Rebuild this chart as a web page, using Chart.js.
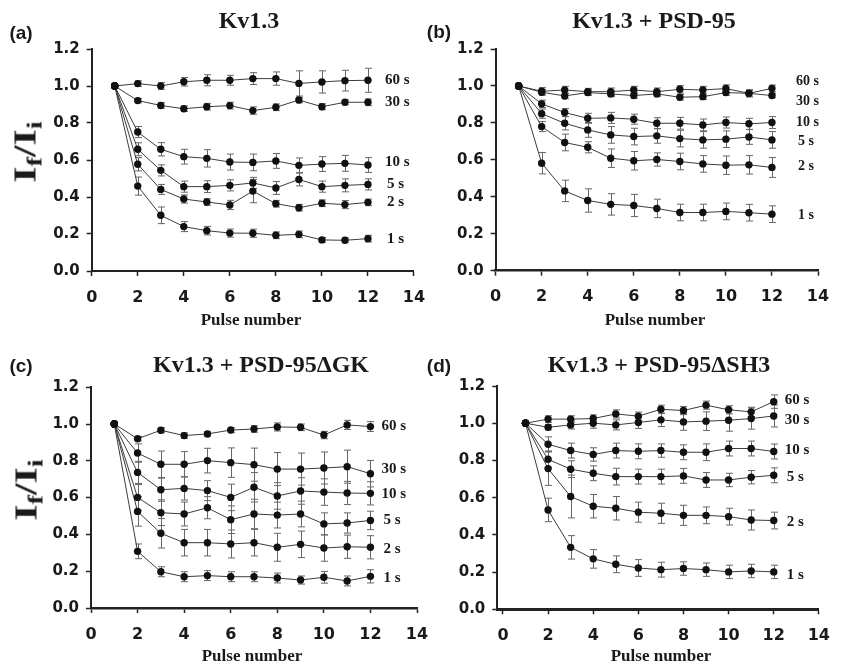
<!DOCTYPE html>
<html>
<head>
<meta charset="utf-8">
<script src="https://cdn.jsdelivr.net/npm/chart.js@4.4.1/dist/chart.umd.min.js"></script>
<style>
  html,body{margin:0;padding:0;background:#fff;}
  #wrap{position:relative;width:842px;height:665px;overflow:hidden;background:#fff;}
  canvas{position:absolute;left:0;top:0;}
  .t{position:absolute;white-space:nowrap;color:#1a1a1a;transform:translate(-50%,-50%);line-height:1;}
  .letter{font:bold 19px "Liberation Sans",Arial,sans-serif;}
  .title{font:bold 24px "Liberation Serif","Times New Roman",serif;}
  .xt{font:bold 17px "Liberation Serif","Times New Roman",serif;}
  .yt{font:bold 32px "Liberation Serif","Times New Roman",serif;transform:translate(-50%,-50%) rotate(-90deg) scaleX(1.3);}
  .yt sub{font-size:22px;vertical-align:-0.25em;line-height:0;}
</style>
</head>
<body>
<div id="wrap">
  <canvas id="ca" width="842" height="665"></canvas>
  <canvas id="cb" width="842" height="665"></canvas>
  <canvas id="cc" width="842" height="665"></canvas>
  <canvas id="cd" width="842" height="665"></canvas>

  <div class="t letter" style="left:21px;top:33px;">(a)</div>
  <div class="t letter" style="left:439px;top:32px;">(b)</div>
  <div class="t letter" style="left:21px;top:366px;">(c)</div>
  <div class="t letter" style="left:439px;top:366px;">(d)</div>

  <div class="t title" style="left:249px;top:20px;">Kv1.3</div>
  <div class="t title" style="left:654px;top:20px;">Kv1.3 + PSD-95</div>
  <div class="t title" style="left:261px;top:364px;">Kv1.3 + PSD-95ΔGK</div>
  <div class="t title" style="left:659px;top:364px;">Kv1.3 + PSD-95ΔSH3</div>

  <div class="t yt" style="left:25px;top:152px;">I<sub>f</sub>/I<sub>i</sub></div>
  <div class="t yt" style="left:26px;top:490px;">I<sub>f</sub>/I<sub>i</sub></div>

  <div class="t xt" style="left:251px;top:320px;">Pulse number</div>
  <div class="t xt" style="left:655px;top:320px;">Pulse number</div>
  <div class="t xt" style="left:252px;top:656px;">Pulse number</div>
  <div class="t xt" style="left:661px;top:656px;">Pulse number</div>
</div>
<script>
// ---------- data ----------
const pulses = [1,2,3,4,5,6,7,8,9,10,11,12];
const xTicks = [0,2,4,6,8,10,12,14];
const yTicks = [0,0.2,0.4,0.6,0.8,1.0,1.2];
const seriesNames = ['60 s','30 s','10 s','5 s','2 s','1 s'];

// (a) Kv1.3
const a60  = [1.0,1.013,1.0,1.023,1.031,1.031,1.04,1.04,1.014,1.022,1.029,1.031];
const a60e = [0,0.015,0.018,0.023,0.03,0.027,0.032,0.036,0.068,0.06,0.056,0.065];
const a30  = [1.0,0.921,0.895,0.877,0.888,0.894,0.867,0.885,0.924,0.888,0.912,0.912];
const a30e = [0,0.012,0.015,0.015,0.018,0.018,0.02,0.018,0.015,0.016,0.014,0.018];
const a10  = [1.0,0.751,0.658,0.618,0.609,0.589,0.587,0.595,0.571,0.578,0.582,0.573];
const a10e = [0,0.03,0.036,0.04,0.047,0.043,0.045,0.04,0.04,0.04,0.043,0.04];
const a5   = [1.0,0.658,0.544,0.456,0.456,0.463,0.476,0.449,0.495,0.456,0.463,0.468];
const a5e  = [0,0.035,0.03,0.03,0.032,0.03,0.03,0.035,0.035,0.03,0.035,0.03];
const a2   = [1.0,0.577,0.441,0.389,0.373,0.357,0.432,0.364,0.342,0.366,0.359,0.371];
const a2e  = [0,0.036,0.027,0.022,0.018,0.025,0.063,0.018,0.018,0.018,0.022,0.018];
const a1   = [1.0,0.459,0.301,0.24,0.218,0.205,0.204,0.193,0.198,0.168,0.166,0.175];
const a1e  = [0,0.049,0.045,0.027,0.023,0.022,0.022,0.018,0.018,0.013,0.013,0.018];

// (b) Kv1.3 + PSD-95
const b60  = [1.0,0.971,0.978,0.969,0.969,0.978,0.969,0.982,0.978,0.986,0.96,0.987];
const b60e = [0,0.02,0.02,0.018,0.02,0.02,0.02,0.02,0.02,0.02,0.02,0.018];
const b30  = [1.0,0.966,0.946,0.964,0.957,0.948,0.957,0.939,0.942,0.964,0.96,0.948];
const b30e = [0,0.015,0.015,0.015,0.015,0.015,0.015,0.015,0.015,0.015,0.015,0.012];
const b10  = [1.0,0.903,0.856,0.825,0.827,0.82,0.798,0.798,0.789,0.802,0.795,0.802];
const b10e = [0,0.02,0.022,0.027,0.03,0.027,0.03,0.032,0.032,0.03,0.03,0.032];
const b5   = [1.0,0.85,0.798,0.762,0.735,0.726,0.73,0.715,0.708,0.712,0.724,0.708];
const b5e  = [0,0.025,0.036,0.04,0.045,0.045,0.04,0.045,0.045,0.045,0.04,0.045];
const b2   = [1.0,0.78,0.694,0.668,0.609,0.595,0.602,0.591,0.578,0.571,0.573,0.559];
const b2e  = [0,0.027,0.045,0.03,0.05,0.05,0.036,0.045,0.045,0.05,0.05,0.054];
const b1   = [1.0,0.582,0.432,0.38,0.359,0.353,0.337,0.315,0.315,0.321,0.314,0.306];
const b1e  = [0,0.058,0.058,0.063,0.058,0.06,0.05,0.045,0.045,0.045,0.045,0.045];

// (c) Kv1.3 + PSD-95ΔGK
const c60  = [1.0,0.92,0.966,0.937,0.946,0.967,0.973,0.984,0.982,0.94,0.995,0.986];
const c60e = [0,0.012,0.014,0.015,0.012,0.014,0.018,0.022,0.018,0.02,0.025,0.027];
const c30  = [1.0,0.842,0.781,0.781,0.801,0.79,0.779,0.755,0.755,0.761,0.768,0.73];
const c30e = [0,0.05,0.072,0.069,0.067,0.08,0.09,0.09,0.087,0.087,0.09,0.072];
const c10  = [1.0,0.737,0.643,0.65,0.638,0.601,0.656,0.609,0.636,0.63,0.625,0.623];
const c10e = [0,0.06,0.063,0.063,0.054,0.072,0.08,0.072,0.072,0.072,0.063,0.063];
const c5   = [1.0,0.601,0.518,0.511,0.545,0.48,0.511,0.505,0.511,0.457,0.462,0.476];
const c5e  = [0,0.07,0.07,0.065,0.06,0.075,0.08,0.07,0.07,0.06,0.055,0.05];
const c2   = [1.0,0.525,0.406,0.355,0.355,0.348,0.355,0.33,0.346,0.326,0.333,0.33];
const c2e  = [0,0.08,0.08,0.072,0.072,0.076,0.072,0.076,0.072,0.072,0.063,0.063];
const c1   = [1.0,0.308,0.197,0.17,0.176,0.17,0.17,0.163,0.152,0.167,0.147,0.172];
const c1e  = [0,0.04,0.027,0.027,0.027,0.027,0.027,0.027,0.022,0.032,0.027,0.036];

// (d) Kv1.3 + PSD-95ΔSH3
const d60  = [1.0,1.022,1.022,1.025,1.05,1.038,1.075,1.068,1.097,1.072,1.061,1.116];
const d60e = [0,0.018,0.018,0.02,0.022,0.022,0.022,0.022,0.022,0.022,0.025,0.036];
const d30  = [1.0,0.978,0.991,1.0,0.991,1.004,1.018,1.007,1.011,1.016,1.025,1.039];
const d30e = [0,0.014,0.022,0.027,0.027,0.032,0.036,0.045,0.05,0.059,0.057,0.059];
const d10  = [1.0,0.887,0.853,0.832,0.853,0.849,0.853,0.844,0.844,0.864,0.864,0.848];
const d10e = [0,0.04,0.04,0.036,0.04,0.04,0.036,0.04,0.045,0.04,0.04,0.04];
const d5   = [1.0,0.806,0.753,0.731,0.713,0.713,0.713,0.717,0.695,0.695,0.71,0.72];
const d5e  = [0,0.045,0.045,0.04,0.045,0.04,0.04,0.04,0.04,0.036,0.036,0.04];
const d2   = [1.0,0.756,0.606,0.554,0.543,0.522,0.516,0.505,0.505,0.498,0.48,0.477];
const d2e  = [0,0.09,0.115,0.063,0.063,0.054,0.054,0.054,0.045,0.045,0.054,0.045];
const d1   = [1.0,0.534,0.333,0.271,0.242,0.222,0.213,0.219,0.213,0.201,0.206,0.201];
const d1e  = [0,0.063,0.063,0.05,0.045,0.045,0.04,0.036,0.036,0.036,0.036,0.036];

// ---------- panels ----------
const panels = [
  {canvas:'ca', series:[a60,a30,a10,a5,a2,a1], errors:[a60e,a30e,a10e,a5e,a2e,a1e],
   labelAt:[1.032,0.914,0.591,0.47,0.375,0.173],
   area:{left:91.7,right:414,top:49,bottom:271}, xmin:0, labelDx:17, labelSize:15, xBorder:2},
  {canvas:'cb', series:[b60,b30,b10,b5,b2,b1], errors:[b60e,b30e,b10e,b5e,b2e,b1e],
   labelAt:[1.023,0.915,0.803,0.698,0.563,0.302],
   area:{left:495.6,right:818,top:49,bottom:270.7}, xmin:0, labelDx:24, labelSize:14, xBorder:2.5},
  {canvas:'cc', series:[c60,c30,c10,c5,c2,c1], errors:[c60e,c30e,c10e,c5e,c2e,c1e],
   labelAt:[0.989,0.754,0.62,0.475,0.321,0.161],
   area:{left:91,right:417,top:387.2,bottom:608}, xmin:0, labelDx:11, labelSize:15, xBorder:2.5},
  {canvas:'cd', series:[d60,d30,d10,d5,d2,d1], errors:[d60e,d30e,d10e,d5e,d2e,d1e],
   labelAt:[1.125,1.018,0.853,0.71,0.468,0.183],
   area:{left:497.3,right:829.3,top:386,bottom:609.3}, xmin:-0.25, labelDx:11, labelSize:15, xBorder:3}
];

const Y_W = 50, X_H = 40;

const errBars = {
  id:'errBars',
  beforeDatasetsDraw(chart){
    const {ctx} = chart, x = chart.scales.x, y = chart.scales.y;
    ctx.save();
    ctx.strokeStyle = '#666';
    ctx.lineWidth = 1;
    chart.data.datasets.forEach(ds => {
      ds.data.forEach((pt, j) => {
        const e = ds.errors[j];
        if (!e) return;
        const px = Math.round(x.getPixelForValue(pt.x)) + 0.5;
        const yt = y.getPixelForValue(pt.y + e), yb = y.getPixelForValue(pt.y - e);
        ctx.beginPath();
        ctx.moveTo(px, yt); ctx.lineTo(px, yb);
        ctx.moveTo(px - 3.5, yt); ctx.lineTo(px + 3.5, yt);
        ctx.moveTo(px - 3.5, yb); ctx.lineTo(px + 3.5, yb);
        ctx.stroke();
      });
    });
    ctx.restore();
  }
};

const seriesLabels = {
  id:'seriesLabels',
  afterDatasetsDraw(chart, args, opts){
    const {ctx} = chart, x = chart.scales.x, y = chart.scales.y;
    ctx.save();
    ctx.fillStyle = '#1a1a1a';
    ctx.font = 'bold ' + opts.size + 'px "Liberation Serif", "Times New Roman", serif';
    ctx.textAlign = 'left';
    ctx.textBaseline = 'middle';
    opts.names.forEach((n, i) => {
      const px = x.getPixelForValue(pulses[pulses.length - 1]) + opts.dx + (n.length < 4 ? 2 : 0);
      ctx.fillText(n, px, y.getPixelForValue(opts.at[i]));
    });
    ctx.restore();
  }
};

panels.forEach(p => {
  const datasets = p.series.map((vals, i) => ({
    data: pulses.map((xv, j) => ({x: xv, y: vals[j]})),
    errors: p.errors[i],
    borderColor: '#3c3c3c',
    borderWidth: 1,
    pointRadius: 3.7,
    pointBackgroundColor: '#111',
    pointBorderColor: '#111',
    pointBorderWidth: 0,
    tension: 0,
    fill: false
  }));
  new Chart(document.getElementById(p.canvas), {
    type: 'line',
    data: {datasets},
    plugins: [errBars, seriesLabels],
    options: {
      responsive: false,
      animation: false,
      devicePixelRatio: 1,
      events: [],
      layout: {padding: {
        left: p.area.left - Y_W,
        right: 842 - p.area.right,
        top: p.area.top,
        bottom: 665 - p.area.bottom - X_H
      }},
      plugins: {
        legend: {display: false},
        tooltip: {enabled: false},
        seriesLabels: {names: seriesNames, at: p.labelAt, dx: p.labelDx, size: p.labelSize}
      },
      scales: {
        x: {
          type: 'linear', min: p.xmin, max: 14,
          afterBuildTicks: s => { s.ticks = xTicks.map(v => ({value: v})); },
          afterFit: s => { s.height = X_H; },
          ticks: {
            callback: v => String(v), autoSkip: false, maxRotation: 0,
            color: '#1a1a1a', padding: 12,
            font: {family: '"DejaVu Sans", Verdana, sans-serif', weight: 'bold', size: 16}
          },
          grid: {drawOnChartArea: false, drawTicks: true, tickLength: 5, tickWidth: 1.5, tickColor: '#222'},
          border: {display: true, color: '#222', width: p.xBorder}
        },
        y: {
          min: 0, max: 1.2,
          afterBuildTicks: s => { s.ticks = yTicks.map(v => ({value: v})); },
          afterFit: s => { s.width = Y_W; },
          ticks: {
            callback: v => Number(v).toFixed(1),
            color: '#1a1a1a', padding: 7,
            font: {family: '"DejaVu Sans", Verdana, sans-serif', weight: 'bold', size: 15}
          },
          grid: {drawOnChartArea: false, drawTicks: true, tickLength: 5, tickWidth: 1.5, tickColor: '#222'},
          border: {display: true, color: '#222', width: 2}
        }
      }
    }
  });
});
</script>
</body>
</html>
